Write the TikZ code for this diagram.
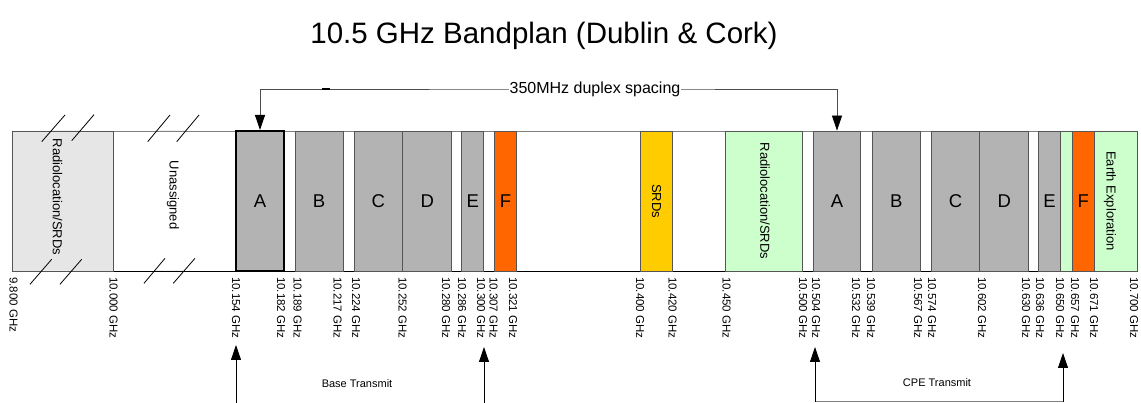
\documentclass[tikz,border=0pt]{standalone}
\usepackage{fontspec}
\setmainfont{Liberation Sans}
\usetikzlibrary{arrows.meta}
\definecolor{chgray}{HTML}{B3B3B3}
\definecolor{edgegray}{HTML}{555555}
\definecolor{radgray}{HTML}{E6E6E6}
\definecolor{radgreen}{HTML}{CCFFCC}
\definecolor{srdyellow}{HTML}{FFCC00}
\definecolor{chorange}{HTML}{FF6600}

\begin{document}
\begin{tikzpicture}[x=1pt, y=-1pt,
    slot/.style={draw=edgegray, minimum height=140pt, inner sep=0pt, line width=0.8pt, font=\fontsize{18.5}{20}\selectfont},
    chan/.style={slot, fill=chgray},
    basechan/.style={chan, draw=black, line width=2pt},
    radbox/.style={slot, fill=radgreen},
    freq/.style={rotate=-90, anchor=west, inner sep=0pt, font=\fontsize{11.5}{13}\selectfont},
    vlabel/.style={rotate=-90, inner sep=0pt, font=\fontsize{13}{15}\selectfont},
    note/.style={font=\fontsize{11}{13}\selectfont},
    brk/.style={line width=0.8pt},
    pointer/.style={-{Triangle[length=15pt,width=10pt]}, line width=0.8pt},
]
\useasboundingbox (0,0) rectangle (1141,403);

% title
\node[font=\fontsize{29.5}{34}\selectfont] (title) at (544,36) {10.5 GHz Bandplan (Dublin \& Cork)};

% band outline
\node[draw=gray, fill=white, minimum width=1125.7pt, minimum height=140pt, inner sep=0pt, line width=0.8pt] (band) at (574.85,201) {};
\draw[line width=0.8pt] (band.south west) -- (band.south east);

% lower part (base)
\node[slot, fill=radgray, minimum width=101pt] (rad1) at (62.5,201) {};
\node[vlabel] (rad1txt) at (57.5,197) {Radiolocation/SRDs};
\node[vlabel] (unass) at (173,195) {Unassigned};
\node[basechan, minimum width=48pt] (bA1) at (260,201) {A};
\node[chan, minimum width=47.7pt] (bB1) at (319.15,201) {B};
\node[chan, minimum width=48.7pt] (bC1) at (378.35,201) {C};
\node[chan, minimum width=49pt] (bD1) at (427.2,201) {D};
\node[chan, minimum width=22pt] (bE1) at (472.7,201) {E};
\node[slot, fill=chorange, minimum width=22.4pt] (bF1) at (505.5,201) {F};
\node[slot, fill=srdyellow, minimum width=32.4pt] (srd) at (656.5,201) {};
\node[vlabel] (srdtxt) at (656.5,201) {SRDs};

% upper part (CPE)
\node[radbox, minimum width=76.6pt] (rad2) at (764,201) {};
\node[vlabel] (rad2txt) at (765,201) {Radiolocation/SRDs};
\node[chan, minimum width=47.4pt] (bA2) at (837,201) {A};
\node[chan, minimum width=48pt] (bB2) at (896.3,201) {B};
\node[chan, minimum width=48.4pt] (bC2) at (955.5,201) {C};
\node[chan, minimum width=49pt] (bD2) at (1004.2,201) {D};
\node[chan, minimum width=22.4pt] (bE2) at (1049.5,201) {E};
\node[radbox, minimum width=11.6pt] (gap2) at (1066.5,201) {};
\node[slot, fill=chorange, minimum width=22pt] (bF2) at (1083.3,201) {F};
\node[radbox, minimum width=43.4pt] (earth) at (1116,201) {};
\node[vlabel] (earthtxt) at (1110,201) {Earth Exploration};

% breaks
\draw[radgray!60, line width=1pt] (51,131) -- (80,131) (157,131) -- (186,131);
\draw[radgray!60, line width=1pt] (41.5,271) -- (71.5,271) (154.3,271) -- (184,271);
\draw[brk] (41.7,141.7) -- (65,115) (71.7,140.7) -- (94,114.7);
\draw[brk] (147.7,141.7) -- (170,115) (176.7,141.7) -- (199,115);
\draw[brk] (30,284.3) -- (51.7,259.3) (60,284.3) -- (81.7,259.3);
\draw[brk] (144,283.3) -- (165,258.3) (173.3,283.3) -- (195,258.3);

% frequencies
\node[freq] (f9800) at (13.5,277) {9.800 GHz};
\node[freq] (f10000) at (113.7,277) {10.000 GHz};
\node[freq] (f10154) at (236,277) {10.154 GHz};
\node[freq] (f10182) at (281,277) {10.182 GHz};
\node[freq] (f10189) at (297.5,277) {10.189 GHz};
\node[freq] (f10217) at (337.5,277) {10.217 GHz};
\node[freq] (f10224) at (356,277) {10.224 GHz};
\node[freq] (f10252) at (402.5,277) {10.252 GHz};
\node[freq] (f10280) at (446,277) {10.280 GHz};
\node[freq] (f10286) at (462,277) {10.286 GHz};
\node[freq] (f10300) at (481,277) {10.300 GHz};
\node[freq] (f10307) at (493.7,277) {10.307 GHz};
\node[freq] (f10321) at (513,277) {10.321 GHz};
\node[freq] (f10400) at (640,277) {10.400 GHz};
\node[freq] (f10420) at (672.5,277) {10.420 GHz};
\node[freq] (f10450) at (726.7,277) {10.450 GHz};
\node[freq] (f10500) at (803,277) {10.500 GHz};
\node[freq] (f10504) at (816,277) {10.504 GHz};
\node[freq] (f10532) at (856,277) {10.532 GHz};
\node[freq] (f10539) at (871,277) {10.539 GHz};
\node[freq] (f10567) at (918,277) {10.567 GHz};
\node[freq] (f10574) at (932,277) {10.574 GHz};
\node[freq] (f10602) at (982,277) {10.602 GHz};
\node[freq] (f10630) at (1026,277) {10.630 GHz};
\node[freq] (f10636) at (1040,277) {10.636 GHz};
\node[freq] (f10650) at (1060,277) {10.650 GHz};
\node[freq] (f10657) at (1075,277) {10.657 GHz};
\node[freq] (f10671) at (1094,277) {10.671 GHz};
\node[freq] (f10700) at (1134,277) {10.700 GHz};

% duplex spacing
\coordinate (dmid) at (595,89);
\draw[pointer, {Triangle[length=15pt,width=10pt,black]}-{Triangle[length=15pt,width=10pt,black]}, draw=gray!60!black] (bA1.north) |- (dmid) -| (bA2.north);
\draw[black, line width=1.2pt] (322,89) -- (330,89);
\node[fill=white, inner sep=1pt, font=\fontsize{16}{18}\selectfont] (duplex) at (dmid) {350MHz duplex spacing};

% base transmit
\coordinate (baseL) at (236,403);
\coordinate (baseLt) at (236,345);
\coordinate (baseR) at (484,403);
\coordinate (baseRt) at (484,347);
\draw[pointer] (baseL) -- (baseLt);
\draw[pointer] (baseR) -- (baseRt);
\node[note] (basetx) at (357,384) {Base Transmit};

% cpe transmit
\coordinate (cpeL) at (815,401.7);
\coordinate (cpeLt) at (815,347);
\coordinate (cpeR) at (1063,401.7);
\coordinate (cpeRt) at (1063,353);
\draw[gray, line width=0.8pt] (cpeL) -- (cpeR);
\draw[pointer] (cpeL) -- (cpeLt);
\draw[pointer] (cpeR) -- (cpeRt);
\node[note] (cpetx) at (937,383) {CPE Transmit};

\end{tikzpicture}
\end{document}
